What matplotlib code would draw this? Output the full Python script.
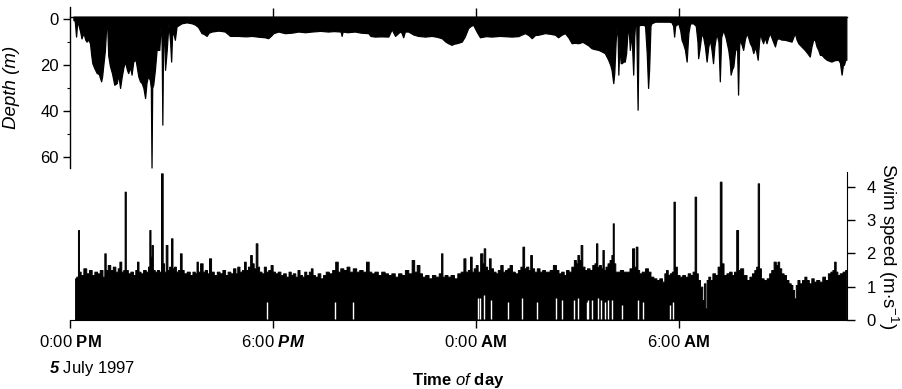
import matplotlib
matplotlib.use('Agg')
import matplotlib.pyplot as plt

# Fonts: Arial-like text, mathtext for the mixed bold / italic pieces
plt.rcParams['font.family'] = ['Liberation Sans', 'DejaVu Sans']
plt.rcParams['mathtext.fontset'] = 'custom'
plt.rcParams['mathtext.rm'] = 'Liberation Sans'
plt.rcParams['mathtext.it'] = 'Liberation Sans:italic'
plt.rcParams['mathtext.bf'] = 'Liberation Sans:bold'
plt.rcParams['mathtext.bfit'] = 'Liberation Sans:italic:bold'

# ---- DATA (hours after noon, 5 July 1997) ----
# deepest point of the dive trace, (hours, depth in m)
depth_profile = [
    (0.10, 0.5), (0.14, 0.8), (0.18, 7.7), (0.21, 2.0), (0.25, 2.6), (0.30, 5.5), (0.34, 8.5),
    (0.40, 6.0), (0.45, 9.0), (0.49, 9.9), (0.54, 9.0), (0.59, 10.6), (0.63, 16.0), (0.66, 19.3),
    (0.72, 21.5), (0.79, 23.6), (0.85, 24.0), (0.92, 27.2), (0.95, 25.0), (0.98, 20.7), (1.03, 14.0),
    (1.07, 3.5), (1.10, 2.6), (1.13, 16.0), (1.18, 20.5), (1.24, 23.6), (1.31, 28.7), (1.38, 28.0),
    (1.43, 24.3), (1.48, 30.1), (1.53, 25.1), (1.58, 21.0), (1.63, 18.6), (1.68, 22.0), (1.72, 23.6),
    (1.78, 21.0), (1.82, 24.3), (1.87, 18.6), (1.94, 17.8), (2.02, 25.1), (2.07, 27.2), (2.12, 28.0),
    (2.17, 30.1), (2.22, 34.5), (2.26, 28.0), (2.30, 25.1), (2.36, 26.5), (2.39, 30.0), (2.41, 64.8),
    (2.43, 30.0), (2.46, 28.7), (2.51, 22.2), (2.56, 13.5), (2.64, 13.5), (2.67, 5.0), (2.69, 1.9),
    (2.71, 12.0), (2.73, 46.1), (2.75, 12.0), (2.78, 6.2), (2.81, 22.2), (2.86, 13.5), (2.91, 1.9),
    (2.96, 10.0), (2.99, 18.6), (3.02, 6.2), (3.07, 7.0), (3.10, 9.1), (3.15, 3.3), (3.30, 1.9),
    (3.45, 1.5), (3.60, 1.9), (3.70, 2.5), (3.79, 3.6), (3.89, 6.2), (3.95, 6.5), (4.04, 7.4),
    (4.10, 6.0), (4.19, 5.5), (4.38, 5.1), (4.50, 5.3), (4.58, 5.5), (4.73, 7.4), (4.97, 7.4),
    (5.20, 7.6), (5.37, 7.4), (5.60, 7.8), (5.76, 8.0), (5.86, 8.4), (5.95, 7.2), (6.01, 6.2),
    (6.16, 5.5), (6.35, 6.2), (6.55, 6.0), (6.75, 5.5), (6.95, 5.8), (7.14, 5.5), (7.40, 5.2),
    (7.63, 5.5), (7.80, 5.3), (8.00, 5.5), (8.03, 7.4), (8.06, 5.5), (8.20, 5.8), (8.42, 5.5),
    (8.60, 6.0), (8.82, 6.2), (8.88, 7.4), (9.01, 7.7), (9.20, 7.6), (9.41, 7.7), (9.51, 4.5),
    (9.56, 6.0), (9.61, 7.4), (9.68, 6.5), (9.75, 5.5), (9.80, 6.0), (9.85, 8.0), (9.90, 5.5),
    (10.00, 5.5), (10.15, 6.8), (10.29, 7.4), (10.50, 7.7), (10.69, 7.4), (10.85, 7.8), (10.99, 8.4),
    (11.10, 9.9), (11.18, 10.6), (11.28, 11.3), (11.35, 10.8), (11.43, 10.6), (11.58, 9.9),
    (11.67, 7.7), (11.77, 4.0), (11.85, 3.0), (11.92, 2.6), (12.02, 5.5), (12.12, 8.0), (12.30, 7.5),
    (12.46, 7.7), (12.70, 7.4), (13.06, 7.7), (13.25, 7.5), (13.45, 6.2), (13.55, 7.0), (13.65, 8.4),
    (13.75, 7.0), (13.84, 6.9), (14.04, 6.2), (14.20, 6.5), (14.34, 6.9), (14.43, 8.0), (14.52, 7.0),
    (14.63, 6.2), (14.73, 8.0), (14.83, 10.6), (14.93, 10.4), (15.03, 10.6), (15.15, 10.0),
    (15.22, 10.6), (15.32, 11.5), (15.42, 12.8), (15.52, 13.2), (15.62, 13.5), (15.72, 14.2),
    (15.81, 14.9), (15.91, 17.8), (15.97, 20.0), (16.01, 22.2), (16.06, 28.0), (16.09, 23.6),
    (16.13, 10.0), (16.16, 3.3), (16.19, 8.0), (16.21, 24.3), (16.24, 12.0), (16.28, 19.3),
    (16.31, 19.3), (16.36, 18.6), (16.40, 18.6), (16.44, 15.0), (16.48, 6.0), (16.50, 3.3),
    (16.53, 8.0), (16.55, 13.5), (16.60, 6.0), (16.65, 24.3), (16.68, 8.0), (16.70, 3.3),
    (16.74, 3.0), (16.78, 39.6), (16.81, 3.0), (16.85, 2.6), (16.95, 2.6), (17.00, 3.0),
    (17.05, 15.0), (17.09, 30.1), (17.12, 22.0), (17.16, 3.0), (17.19, 1.9), (17.30, 1.2),
    (17.49, 1.2), (17.70, 1.2), (17.78, 1.4), (17.83, 3.0), (17.86, 7.7), (17.89, 3.0), (17.98, 1.9),
    (18.04, 5.0), (18.08, 9.1), (18.13, 11.0), (18.18, 13.5), (18.23, 18.6), (18.26, 11.0),
    (18.28, 6.2), (18.33, 2.0), (18.42, 1.9), (18.50, 3.0), (18.55, 10.0), (18.57, 17.1),
    (18.62, 12.0), (18.67, 6.2), (18.72, 8.0), (18.77, 12.0), (18.82, 18.6), (18.87, 12.0),
    (18.92, 9.1), (18.97, 14.0), (19.01, 19.3), (19.05, 12.0), (19.11, 6.2), (19.17, 10.0),
    (19.21, 27.2), (19.25, 8.0), (19.31, 4.8), (19.38, 8.0), (19.46, 13.5), (19.50, 18.0),
    (19.53, 24.3), (19.57, 22.0), (19.61, 20.7), (19.66, 14.0), (19.72, 12.0), (19.75, 33.0),
    (19.78, 12.0), (19.80, 9.1), (19.85, 11.0), (19.90, 13.5), (19.95, 9.0), (20.00, 6.2),
    (20.05, 8.0), (20.10, 10.6), (20.15, 12.0), (20.20, 14.9), (20.26, 12.0), (20.33, 17.8),
    (20.37, 10.0), (20.40, 6.2), (20.45, 9.0), (20.49, 10.6), (20.54, 8.0), (20.59, 10.6),
    (20.64, 8.0), (20.69, 6.2), (20.76, 9.0), (20.84, 12.0), (20.89, 9.0), (20.94, 8.4),
    (21.03, 9.0), (21.13, 9.1), (21.23, 9.5), (21.33, 9.9), (21.38, 8.0), (21.43, 6.2), (21.48, 9.0),
    (21.53, 10.6), (21.62, 12.0), (21.72, 13.5), (21.80, 15.0), (21.87, 16.4), (21.92, 12.0),
    (21.97, 9.1), (22.02, 9.1), (22.07, 12.0), (22.12, 13.5), (22.17, 15.7), (22.22, 15.7),
    (22.30, 17.0), (22.37, 17.8), (22.45, 18.3), (22.51, 18.6), (22.60, 18.0), (22.71, 17.8),
    (22.76, 19.0), (22.81, 24.3), (22.85, 20.0), (22.88, 20.0), (22.92, 17.8), (22.95, 17.8),
]

# top of the swim speed trace, (hours, m/s)
speed_profile = [
    (0.15, 1.25), (0.22, 1.3), (0.25, 2.7), (0.28, 1.45), (0.35, 1.35), (0.44, 1.55), (0.52, 1.4),
    (0.60, 1.5), (0.68, 1.35), (0.76, 1.45), (0.84, 1.4), (0.92, 1.5), (1.00, 1.3), (1.03, 2.0),
    (1.08, 1.5), (1.15, 1.65), (1.23, 1.5), (1.30, 1.6), (1.38, 1.45), (1.44, 1.55), (1.48, 1.75),
    (1.55, 1.45), (1.60, 1.5), (1.63, 3.85), (1.67, 1.5), (1.75, 1.4), (1.82, 1.45), (1.90, 1.35),
    (1.96, 1.5), (2.00, 1.75), (2.05, 1.45), (2.12, 1.4), (2.20, 1.5), (2.28, 1.45), (2.33, 1.6),
    (2.36, 2.7), (2.40, 1.9), (2.43, 2.25), (2.47, 1.5), (2.54, 1.45), (2.60, 1.5), (2.66, 1.45),
    (2.72, 4.4), (2.76, 1.7), (2.80, 1.45), (2.86, 2.25), (2.90, 1.5), (2.96, 1.6), (3.01, 2.45),
    (3.05, 1.55), (3.10, 1.6), (3.16, 1.45), (3.22, 1.5), (3.28, 2.0), (3.32, 1.5), (3.40, 1.4),
    (3.50, 1.45), (3.58, 1.35), (3.66, 1.45), (3.72, 1.4), (3.76, 1.75), (3.80, 1.45), (3.89, 1.7),
    (3.95, 1.45), (4.02, 1.5), (4.08, 1.4), (4.14, 1.85), (4.20, 1.45), (4.30, 1.35), (4.38, 1.45),
    (4.46, 1.4), (4.55, 1.5), (4.62, 1.35), (4.70, 1.45), (4.78, 1.4), (4.86, 1.55), (4.92, 1.4),
    (4.97, 1.6), (5.05, 1.45), (5.12, 1.5), (5.17, 1.75), (5.22, 1.5), (5.30, 1.6), (5.35, 1.95),
    (5.40, 1.7), (5.46, 1.55), (5.52, 2.3), (5.56, 1.6), (5.62, 1.45), (5.70, 1.4), (5.76, 1.6),
    (5.82, 1.45), (5.90, 1.5), (5.96, 1.65), (6.02, 1.45), (6.10, 1.4), (6.18, 1.45), (6.26, 1.35),
    (6.34, 1.4), (6.42, 1.3), (6.50, 1.45), (6.55, 1.35), (6.62, 1.4), (6.70, 1.3), (6.75, 1.5),
    (6.82, 1.35), (6.90, 1.3), (6.95, 1.45), (7.02, 1.35), (7.10, 1.45), (7.14, 1.55), (7.20, 1.35),
    (7.28, 1.3), (7.36, 1.4), (7.44, 1.25), (7.52, 1.35), (7.60, 1.45), (7.70, 1.4), (7.80, 1.5),
    (7.88, 1.75), (7.95, 1.45), (8.03, 1.55), (8.13, 1.5), (8.22, 1.6), (8.30, 1.45), (8.42, 1.55),
    (8.50, 1.45), (8.60, 1.5), (8.70, 1.45), (8.80, 1.75), (8.86, 1.45), (8.95, 1.4), (9.05, 1.45),
    (9.15, 1.35), (9.25, 1.45), (9.35, 1.4), (9.45, 1.35), (9.55, 1.4), (9.65, 1.3), (9.75, 1.4),
    (9.85, 1.35), (9.95, 1.5), (10.05, 1.4), (10.15, 1.8), (10.20, 1.45), (10.30, 1.65),
    (10.36, 1.4), (10.45, 1.3), (10.55, 1.35), (10.65, 1.25), (10.75, 1.35), (10.85, 1.3),
    (10.95, 1.4), (10.99, 2.0), (11.03, 1.3), (11.12, 1.35), (11.20, 1.3), (11.30, 1.35),
    (11.40, 1.25), (11.50, 1.4), (11.60, 1.45), (11.66, 1.85), (11.72, 1.45), (11.80, 1.5),
    (11.85, 1.9), (11.90, 1.45), (11.97, 1.55), (12.02, 1.65), (12.08, 1.45), (12.17, 2.0),
    (12.21, 1.7), (12.25, 2.15), (12.30, 1.6), (12.36, 1.5), (12.41, 1.85), (12.46, 1.55),
    (12.55, 1.45), (12.61, 1.4), (12.68, 1.5), (12.76, 1.65), (12.82, 1.45), (12.90, 1.5),
    (12.96, 1.55), (13.03, 1.65), (13.10, 1.45), (13.20, 1.4), (13.28, 1.5), (13.35, 1.6),
    (13.40, 2.2), (13.45, 1.55), (13.52, 1.6), (13.58, 1.5), (13.63, 1.95), (13.68, 1.55),
    (13.76, 1.45), (13.84, 1.55), (13.92, 1.45), (14.00, 1.5), (14.08, 1.45), (14.14, 1.45),
    (14.22, 1.5), (14.33, 1.65), (14.40, 1.5), (14.48, 1.4), (14.56, 1.45), (14.63, 1.35),
    (14.70, 1.5), (14.78, 1.45), (14.86, 1.6), (14.93, 1.8), (14.98, 1.7), (15.02, 1.95),
    (15.07, 1.8), (15.12, 2.25), (15.17, 1.6), (15.25, 1.5), (15.32, 1.55), (15.40, 1.5),
    (15.48, 1.65), (15.53, 1.7), (15.57, 2.3), (15.61, 1.6), (15.67, 1.65), (15.72, 1.55),
    (15.76, 2.1), (15.80, 1.5), (15.86, 1.6), (15.92, 1.7), (15.98, 1.8), (16.03, 1.95),
    (16.06, 2.9), (16.09, 1.7), (16.15, 1.45), (16.21, 1.45), (16.30, 1.5), (16.40, 1.45),
    (16.50, 1.45), (16.58, 1.55), (16.65, 2.15), (16.70, 1.6), (16.75, 2.2), (16.80, 1.5),
    (16.85, 1.4), (16.95, 1.45), (17.05, 1.55), (17.12, 1.45), (17.20, 1.3), (17.29, 1.25),
    (17.38, 1.2), (17.46, 1.25), (17.54, 1.15), (17.60, 1.4), (17.64, 1.5), (17.70, 1.35),
    (17.76, 1.4), (17.82, 1.45), (17.86, 3.55), (17.90, 1.6), (17.98, 1.35), (18.06, 1.3),
    (18.14, 1.35), (18.22, 1.3), (18.30, 1.4), (18.37, 1.35), (18.44, 1.45), (18.49, 3.7),
    (18.53, 1.4), (18.59, 1.2), (18.66, 1.0), (18.72, 0.6), (18.76, 1.1), (18.80, 0.35),
    (18.84, 1.2), (18.90, 1.3), (18.95, 1.2), (19.03, 1.4), (19.11, 1.35), (19.18, 1.6),
    (19.24, 4.15), (19.28, 1.7), (19.36, 1.35), (19.45, 1.4), (19.52, 1.45), (19.60, 1.35),
    (19.66, 1.45), (19.73, 2.7), (19.77, 1.5), (19.85, 1.55), (19.95, 1.35), (20.05, 1.2),
    (20.12, 1.3), (20.20, 1.4), (20.26, 1.5), (20.31, 1.6), (20.35, 4.1), (20.39, 1.55),
    (20.46, 1.25), (20.55, 1.2), (20.64, 1.25), (20.70, 1.4), (20.76, 1.5), (20.84, 1.75),
    (20.89, 1.65), (20.94, 1.75), (20.99, 1.55), (21.06, 1.4), (21.13, 1.35), (21.20, 1.2),
    (21.28, 1.1), (21.33, 1.05), (21.38, 0.9), (21.43, 0.65), (21.48, 1.05), (21.53, 1.2),
    (21.60, 1.1), (21.68, 1.2), (21.74, 1.3), (21.80, 1.2), (21.88, 1.1), (21.95, 1.25),
    (22.02, 1.15), (22.10, 1.2), (22.20, 1.15), (22.28, 1.3), (22.36, 1.2), (22.45, 1.4),
    (22.51, 1.45), (22.57, 1.5), (22.61, 1.75), (22.66, 1.45), (22.71, 1.35), (22.80, 1.4),
    (22.88, 1.45), (22.95, 1.5),
]

# white notches where the speed never fell near zero
gap_hours = [5.81, 7.83, 8.37, 12.07, 12.12, 12.25, 12.46, 12.96, 13.35, 13.82, 14.38, 14.55,
             14.91, 15.02, 15.27, 15.32, 15.42, 15.62, 15.71, 15.81, 15.91, 16.01, 16.31, 16.80,
             16.95, 17.73, 17.83]
gap_tops = [0.55, 0.55, 0.55, 0.65, 0.65, 0.75, 0.6, 0.55, 0.65, 0.55, 0.65, 0.6,
            0.6, 0.65, 0.55, 0.6, 0.6, 0.65, 0.6, 0.55, 0.6, 0.6, 0.45, 0.6,
            0.55, 0.45, 0.55]

time_ticks = [0, 6, 12, 18]
time_labels = [r'0:00 $\mathbf{PM}$', r'6:00 $\mathbfit{PM}$', r'0:00 $\mathbf{AM}$', r'6:00 $\mathbf{AM}$']
depth_ticks = [0, 20, 40, 60]
speed_ticks = [0, 1, 2, 3, 4]

depth_hours, depth_m = zip(*depth_profile)
speed_hours, speed_ms = zip(*speed_profile)

# ---- LAYOUT (pixel based, 902x389) ----
W_PX, H_PX, DPI = 902, 389, 100
fig = plt.figure(figsize=(W_PX / DPI, H_PX / DPI), dpi=DPI)

def px_axes(left, top, right, bottom):
    return fig.add_axes([left / W_PX, 1 - bottom / H_PX, (right - left) / W_PX, (bottom - top) / H_PX])

T_END = 22.97

# 1. depth panel
ax_d = px_axes(70, 7, 847, 168)
ax_d.patch.set_alpha(0)
ax_d.fill_between(depth_hours, -1, depth_m, facecolor='black', edgecolor='black', linewidth=0.9)
ax_d.set_xlim(0, T_END)
ax_d.set_ylim(65, -5.2)
ax_d.spines['right'].set_visible(False)
ax_d.spines['bottom'].set_visible(False)
ax_d.spines['top'].set_position(('data', -1))
ax_d.spines['left'].set_linewidth(1.0)
ax_d.spines['top'].set_linewidth(1.0)
ax_d.xaxis.set_ticks_position('top')
ax_d.set_xticks([6, 12, 18])
ax_d.tick_params(axis='x', direction='out', length=6.5, width=1, labeltop=False, labelbottom=False)
ax_d.set_yticks(depth_ticks)
ax_d.set_yticks([10, 30, 50], minor=True)
ax_d.tick_params(axis='y', which='major', direction='out', length=5, width=1, labelsize=12, pad=3)
ax_d.tick_params(axis='y', which='minor', direction='out', length=2.5, width=0.8)
ax_d.text(-0.075, 0.5, 'Depth (m)', transform=ax_d.transAxes, rotation=90,
          ha='center', va='center', fontsize=13.5, style='italic')

# 2. swim speed panel
ax_s = px_axes(70, 172, 847, 320)
ax_s.patch.set_alpha(0)
ax_s.fill_between(speed_hours, 0, speed_ms, step='mid', facecolor='black', edgecolor='black', linewidth=0.7)
ax_s.vlines(gap_hours, 0.04, gap_tops, color='white', linewidth=1.0)
ax_s.set_xlim(0, T_END)
ax_s.set_ylim(0, 4.44)
ax_s.spines['left'].set_visible(False)
ax_s.spines['top'].set_visible(False)
ax_s.yaxis.tick_right()
ax_s.set_yticks(speed_ticks)
ax_s.tick_params(axis='y', direction='out', length=6, width=1, labelsize=12, pad=8)
ax_s.set_xticks(time_ticks, time_labels)
ax_s.tick_params(axis='x', direction='out', length=6, width=1, labelsize=12, pad=4)
ax_s.text(1.0528, 0.5, r'Swim speed (m$\cdot$s$^{-1}$)', transform=ax_s.transAxes, rotation=-90,
          ha='center', va='center', fontsize=13.5)

# 3. texts under the axis
fig.text(49 / W_PX, 1 - 368 / H_PX, r'$\mathbfit{5}$ July 1997', ha='left', va='center', fontsize=12)
fig.text(458.5 / W_PX, 1 - 380 / H_PX, r'Time $\mathit{of}$ day', ha='center', va='center',
         fontsize=12, fontweight='bold')

plt.savefig('out.png', dpi=DPI)
plt.close()
